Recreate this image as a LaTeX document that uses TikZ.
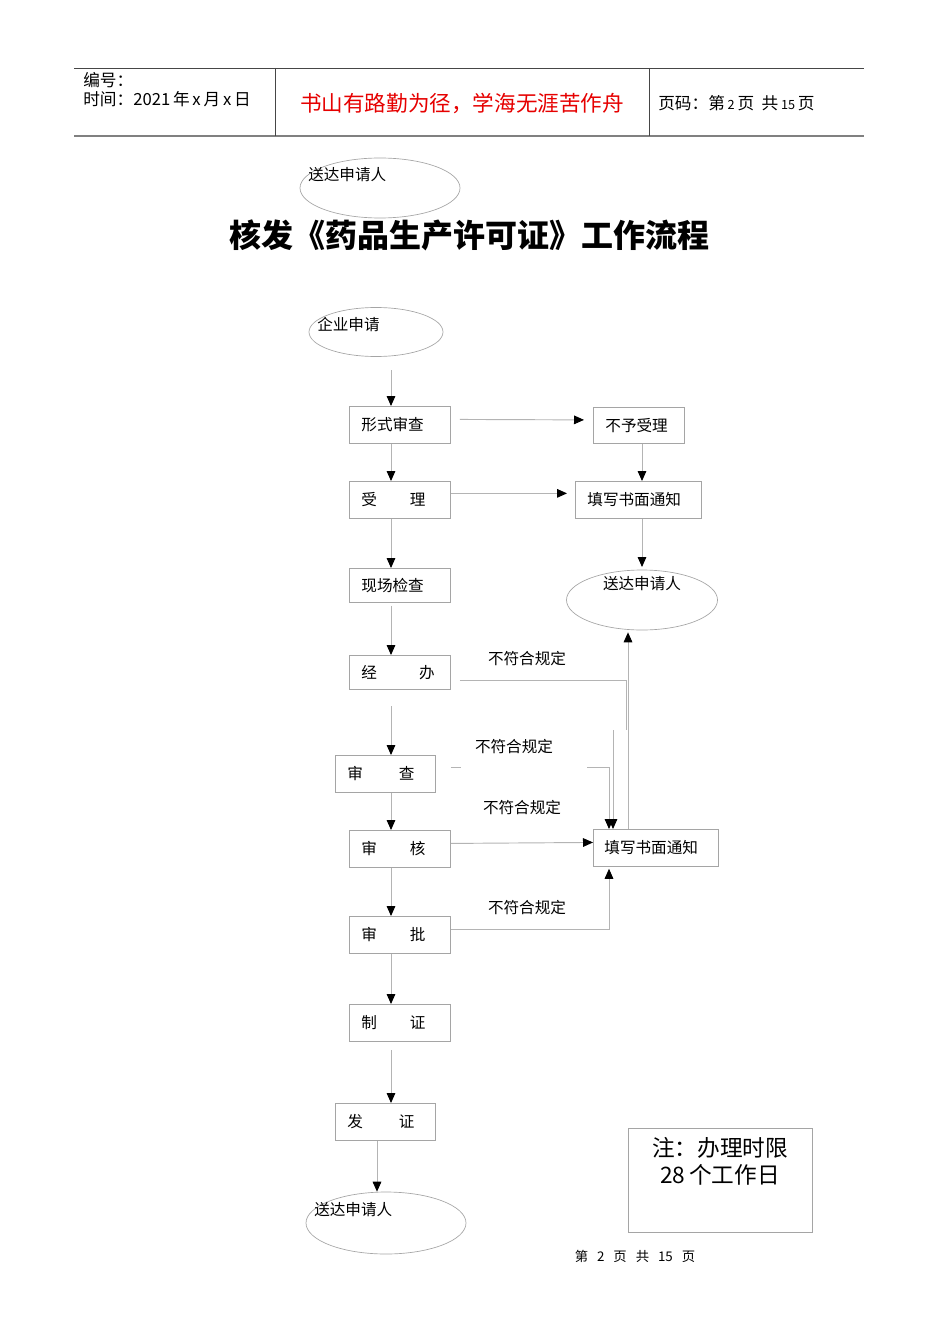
\documentclass[tikz,border=0pt]{standalone}
\usepackage{fontspec}
\setmainfont{Noto Sans CJK SC}
\usetikzlibrary{arrows.meta,shapes.geometric}
\definecolor{boxgray}{RGB}{165,165,165}
\definecolor{linegray}{RGB}{180,180,180}
\definecolor{redtxt}{RGB}{230,0,0}
\definecolor{hdrline}{RGB}{70,70,70}
\begin{document}
\begin{tikzpicture}[x=0.75pt,y=-0.75pt,
  stepbox/.style={draw=boxgray, line width=0.6pt, anchor=north west, minimum height=37*0.75pt,
    text width=77*0.75pt, inner xsep=12*0.75pt, inner ysep=0pt, align=left,
    font=\fontsize{11.7}{13}\selectfont},
  ovalnode/.style={draw=boxgray, line width=0.5pt, ellipse, inner sep=0pt},
  lbl/.style={inner sep=0pt, font=\fontsize{11.7}{13}\selectfont},
  hdr/.style={inner sep=0pt, font=\fontsize{12.5}{14}\selectfont},
  arr/.style={draw=linegray, line width=0.7pt, -{Triangle[length=7.5pt,width=6.5pt,color=black]}},
  ln/.style={draw=linegray, line width=0.7pt}]
\path[use as bounding box, fill=white] (0,0) rectangle (950,1344);

% header
\draw[hdrline, line width=0.6pt] (74,68) -- (864,68);
\draw[gray, line width=1.5pt] (74,136) -- (864,136);
\draw[hdrline, line width=0.6pt] (275,68) -- (275,136);
\draw[hdrline, line width=0.6pt] (649,68) -- (649,136);
\node[hdr, anchor=west] (h1) at (83,80) {编号：};
\node[hdr, anchor=west] (h2) at (83,99) {时间：2021\,年\,x\,月\,x\,日};
\node[inner sep=0pt, text=redtxt, font=\fontsize{16.2}{18}\selectfont] (h3) at (462,103) {书山有路勤为径，学海无涯苦作舟};
\node[hdr, anchor=west] (h4) at (658,103) {页码：第\,{\fontsize{9.5}{11}\selectfont 2}\,页\ \ 共\,{\fontsize{9.5}{11}\selectfont 15}\,页};

% top ellipse
\node[ovalnode, minimum width=160*0.75pt, minimum height=60*0.75pt] (top) at (380,188) {};
\node[lbl, anchor=west] (topt) at (308,175) {送达申请人};

% title
\node[inner sep=0pt, font=\fontsize{24}{28}\selectfont\bfseries] (title) at (469,235) {核发《药品生产许可证》工作流程};

% start
\node[ovalnode, minimum width=134*0.75pt, minimum height=49*0.75pt] (qy) at (376,332) {};
\node[lbl, anchor=west] (qyt) at (317,324) {企业申请};

% boxes
\node[stepbox] (xs) at (349,406) {形式审查};
\node[stepbox, text width=67*0.75pt, minimum height=36*0.75pt] (by) at (593,407) {不予受理};
\node[stepbox] (sl) at (349,481) {受\hspace{2.1em}理};
\node[stepbox, text width=102*0.75pt] (tx1) at (575,481) {填写书面通知};
\node[ovalnode, minimum width=151*0.75pt, minimum height=60*0.75pt] (sd) at (642,600) {};
\node[lbl] (sdt) at (642,584) {送达申请人};
\node[stepbox, minimum height=34*0.75pt] (xc) at (349,568) {现场检查};
\node[stepbox, minimum height=34*0.75pt] (jb) at (349,655) {经\hspace{2.7em}办};
\node[stepbox, text width=76*0.75pt] (sc) at (335,755) {审\hspace{2.3em}查};
\node[stepbox] (sh) at (349,830) {审\hspace{2.1em}核};
\node[stepbox, text width=103*0.75pt, inner xsep=11*0.75pt] (tx2) at (593,829) {填写书面通知};
\node[stepbox] (sp) at (349,916) {审\hspace{2.1em}批};
\node[stepbox] (zz) at (349,1004) {制\hspace{2.1em}证};
\node[stepbox, text width=76*0.75pt] (fz) at (335,1103) {发\hspace{2.3em}证};
\node[ovalnode, minimum width=160*0.75pt, minimum height=62*0.75pt] (end) at (386,1223) {};
\node[lbl, anchor=west] (endt) at (314,1210) {送达申请人};

% labels
\node[lbl] (l1) at (527,659) {不符合规定};
\node[lbl] (l2) at (514,747) {不符合规定};
\node[lbl] (l3) at (522,808) {不符合规定};
\node[lbl] (l4) at (527,908) {不符合规定};

% note
\node[draw=boxgray, line width=0.6pt, anchor=north west, minimum width=184*0.75pt, minimum height=104*0.75pt, inner sep=0pt] (note) at (628,1128) {};
\node[inner sep=0pt, align=center, font=\fontsize{17}{20}\selectfont, anchor=north] (notet) at (720,1137) {注：办理时限\\28\,个工作日};

% footer
\node[inner sep=0pt, font=\fontsize{10}{12}\selectfont] (foot) at (635,1256) {第\ \ \ 2\ \ \ 页\ \ \ 共\ \ \ 15\ \ \ 页};

% coordinates
\coordinate (c1) at (391,0);
\coordinate (c2) at (642,0);
\coordinate (c3) at (377,0);
\coordinate (cx1) at (609,0);
\coordinate (cx2) at (628,0);
\coordinate (qybot) at (391,370);
\coordinate (jbs) at (391,706);
\coordinate (zzs) at (391,1050);
\coordinate (j1) at (626,730);
\coordinate (j2) at (613,730);
\coordinate (s1) at (587,767);

% main column arrows
\draw[arr] (qybot) -- (c1 |- xs.north);
\draw[arr] (c1 |- xs.south) -- (c1 |- sl.north);
\draw[arr] (c1 |- sl.south) -- (c1 |- xc.north);
\draw[arr] ([yshift=-2.25pt]c1 |- xc.south) -- (c1 |- jb.north);
\draw[arr] (jbs) -- (c1 |- sc.north);
\draw[arr] (c1 |- sc.south) -- (c1 |- sh.north);
\draw[arr] (c1 |- sh.south) -- (c1 |- sp.north);
\draw[arr] (c1 |- sp.south) -- (c1 |- zz.north);
\draw[arr] (zzs) -- (c1 |- fz.north);
\draw[arr] (c3 |- fz.south) -- (c3 |- end.north);

% right side
\draw[arr, shorten >=6.75pt] ([xshift=6.75pt,yshift=4.1pt]xs.east) -- ([yshift=4.1pt]by.west);
\draw[arr, shorten >=6pt] ([yshift=4.9pt]sl.east) -- ([yshift=4.9pt]tx1.west);
\draw[arr] (c2 |- by.south) -- (c2 |- tx1.north);
\draw[arr] (c2 |- tx1.south) -- ([yshift=2pt]c2 |- sd.north);
\draw[ln] ([xshift=6.75pt,yshift=-6pt]jb.east) -| (j1);
\draw[ln] ([xshift=11.25pt,yshift=4.9pt]sc.east) -- ++(10,0);
\draw[arr] (s1) -| (cx1 |- tx2.north);
\draw[arr] (j2) -- (j2 |- tx2.north);
\draw[arr] ([yshift=4.1pt]sh.east) -- ([yshift=4.1pt]tx2.west);
\draw[arr] (cx2 |- tx2.north) -- ([yshift=-1.5pt]cx2 |- sd.south);
\draw[arr] ([yshift=4.1pt]sp.east) -| ([yshift=-1.5pt]cx1 |- tx2.south);
\end{tikzpicture}
\end{document}
